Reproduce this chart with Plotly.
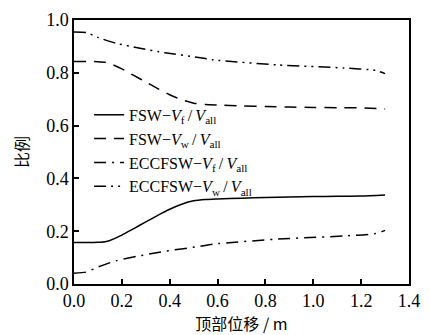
import plotly.graph_objects as go

# Data
x_fsw = [0.0, 0.05, 0.10, 0.13, 0.15, 0.20, 0.25, 0.30, 0.35, 0.40, 0.45, 0.50, 0.55, 0.60, 0.70, 0.80, 0.90, 1.00, 1.10, 1.20, 1.30]
fsw_vf = [0.157, 0.157, 0.158, 0.160, 0.165, 0.185, 0.210, 0.235, 0.260, 0.283, 0.302, 0.315, 0.320, 0.322, 0.325, 0.328, 0.330, 0.331, 0.332, 0.333, 0.337]
fsw_vw = [0.843, 0.843, 0.842, 0.840, 0.835, 0.815, 0.790, 0.765, 0.740, 0.717, 0.698, 0.685, 0.680, 0.678, 0.675, 0.672, 0.670, 0.669, 0.668, 0.667, 0.663]

x_ecc = [0.0, 0.05, 0.10, 0.175, 0.27, 0.38, 0.52, 0.58, 0.85, 1.13, 1.26, 1.30]
ecc_vf = [0.041, 0.045, 0.064, 0.088, 0.106, 0.124, 0.142, 0.151, 0.170, 0.182, 0.191, 0.203]
ecc_vw = [0.955, 0.953, 0.934, 0.912, 0.894, 0.876, 0.858, 0.849, 0.830, 0.818, 0.809, 0.797]

names = [
    "FSW\u2212<i>V</i><sub>f</sub>\u2009/\u2009<i>V</i><sub>all</sub>",
    "FSW\u2212<i>V</i><sub>w</sub>\u2009/\u2009<i>V</i><sub>all</sub>",
    "ECCFSW\u2212<i>V</i><sub>f</sub>\u2009/\u2009<i>V</i><sub>all</sub>",
    "ECCFSW\u2212<i>V</i><sub>w</sub>\u2009/\u2009<i>V</i><sub>all</sub>",
]

serif = "Times New Roman, Liberation Serif, Times, serif"
cjk = "Noto Sans CJK SC"

fig = go.Figure()
series = [
    (x_fsw, fsw_vf, "solid"),
    (x_fsw, fsw_vw, "12px,8px"),
    (x_ecc, ecc_vf, "12px,6px,2px,6px"),
    (x_ecc, ecc_vw, "12px,5px,2px,5px,2px,5px"),
]
for (xs, ys, dash), nm in zip(series, names):
    fig.add_trace(go.Scatter(x=xs, y=ys, mode="lines", name=nm,
                             line=dict(color="black", width=1.5, dash=dash, shape="spline", smoothing=0.6)))

axis_common = dict(showline=True, linecolor="black", linewidth=1.5, mirror=True,
                   ticks="inside", ticklen=5, tickwidth=1.5, tickcolor="black",
                   showgrid=False, zeroline=False,
                   tickfont=dict(family=serif, size=18, color="black"))

fig.update_xaxes(range=[0, 1.4], dtick=0.2, tickformat=".1f",
                 title=dict(text="顶部位移 / m", font=dict(family=cjk, size=16, color="black"), standoff=2),
                 **axis_common)
fig.update_yaxes(range=[0, 1.0], dtick=0.2, tickformat=".1f",
                 title=dict(text="比例", font=dict(family=cjk, size=16, color="black"), standoff=14),
                 **axis_common)

fig.update_layout(
    width=430, height=335,
    margin=dict(l=74, r=15, t=10, b=51),
    paper_bgcolor="white", plot_bgcolor="white",
    font=dict(family=serif, color="black"),
    legend=dict(x=0.045, y=0.705, xanchor="left", yanchor="top",
                bgcolor="rgba(0,0,0,0)",
                font=dict(family=serif, size=16, color="black")),
    showlegend=True,
)

fig.write_html("out.html")
